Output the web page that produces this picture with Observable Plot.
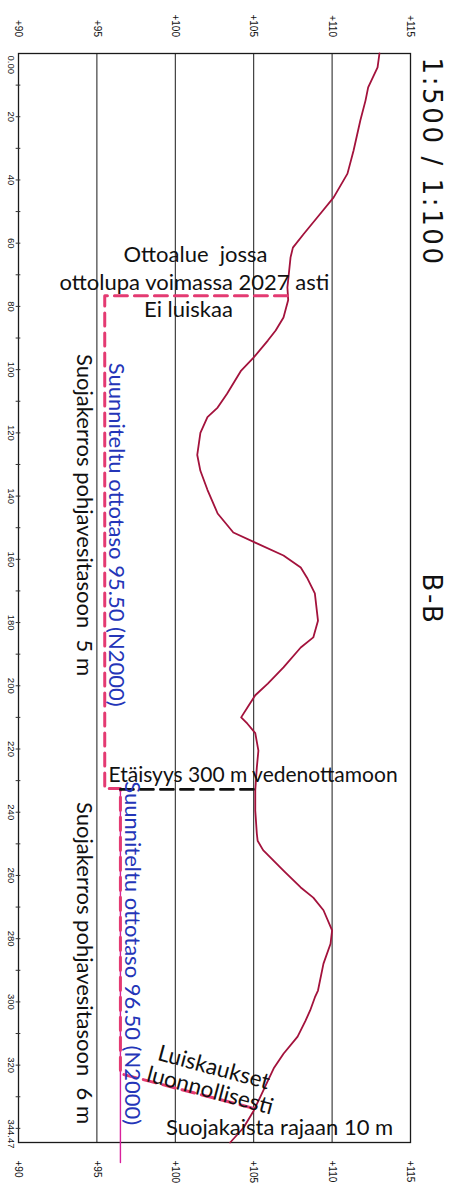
<!DOCTYPE html>
<html><head><meta charset="utf-8">
<script src="https://cdn.jsdelivr.net/npm/d3@7"></script>
<script src="https://cdn.jsdelivr.net/npm/@observablehq/plot@0.6"></script>
<style>body{margin:0;background:#fff} #chart svg{display:block}</style>
</head><body><div id="chart"></div>
<script>
// Terrain profile B-B: distance along section (m) and ground elevation (N2000)
const profileDist = [0, 4.4, 10.7, 14.9, 21.2, 30.7, 38, 45.5, 50.6, 57, 61.4, 64.5, 74, 78, 83.5, 87.6, 90.8, 96.2, 100.3, 107.6, 112, 115, 120, 127, 132, 138, 145.5, 151.5, 154.7, 158.8, 162.6, 165.8, 170.8, 179.4, 184.7, 187.9, 194.2, 199.3, 203, 206.9, 210, 212, 215, 220.5, 225.8, 233, 239.5, 246.8, 249, 252, 258.5, 263.8, 267, 271, 277.4, 281.6, 287.9, 296.4, 298.6, 302.7, 306, 311, 316.4, 320.8, 325, 330.3, 334.4, 339.8, 344.47];
const profileElev = [113.02, 112.9, 112.3, 112.13, 111.8, 111.37, 110.98, 110.1, 109.26, 108.2, 107.5, 107.35, 107.15, 107.2, 106.9, 106.4, 105.9, 104.99, 104.2, 103.3, 102.7, 102.05, 101.6, 101.4, 101.6, 102.05, 102.7, 103.7, 105.1, 106.9, 108.0, 108.4, 108.9, 109.1, 108.8, 108.0, 106.9, 105.9, 105.1, 104.6, 104.2, 104.6, 105.1, 105.3, 105.2, 105.1, 105.1, 105.2, 105.25, 105.6, 106.9, 108.0, 108.8, 109.45, 110.0, 109.9, 109.45, 109.1, 108.9, 108.6, 108.3, 107.8, 106.9, 106.3, 105.9, 105.4, 105.0, 104.35, 103.5];

// Planned extraction boundary (pink dashed)
const planDist = [76.6, 76.6, 232.5, 232.5, 322.7, 333.8];
const planElev = [107.15, 95.5, 95.5, 96.5, 96.5, 105.1];
// Planned level 96.50 (thin magenta)
const levelDist = [232.5, 350.8];
const levelElev = [96.5, 96.5];
// 300 m distance marker (black dashed)
const markDist = [232.8, 232.8];
const markElev = [96.5, 105.1];

// Axes
const elevTicks = [90, 95, 100, 105, 110, 115];
const elevTickLabels = ["+90", "+95", "+100", "+105", "+110", "+115"];
const gridElev = [95, 100, 105, 110];
const distTicks = [0, 20, 40, 60, 80, 100, 120, 140, 160, 180, 200, 220, 240, 260, 280, 300, 320, 344.47];
const distTickLabels = ["0.00", "20", "40", "60", "80", "100", "120", "140", "160", "180", "200", "220", "240", "260", "280", "300", "320", "344.47"];
const minorDist = [10, 20, 30, 40, 50, 60, 70, 80, 90, 100, 110, 120, 130, 140, 150, 160, 170, 180, 190, 200, 210, 220, 230, 240, 250, 260, 270, 280, 290, 300, 310, 320, 330, 340];

// Titles
const titleText = ["1:500 / 1:100", "B-B"];
const titleElev = [115.8, 115.8];
const titleDist = [1.3, 172.7];

// Horizontal notes
const noteText = ["Ottoalue  jossa", "ottolupa voimassa 2027 asti", "Ei luiskaa", "Suojakaista rajaan 10 m"];
const noteElev = [101.29, 101.22, 100.84, 106.65];
const noteDist = [66.0, 74.8, 83.2, 342.0];
const note2Text = ["Etäisyys 300 m vedenottamoon"];
const note2Elev = [104.96];
const note2Dist = [230.5];
// Vertical notes
const blueText = ["Suunniteltu ottotaso 95.50 (N2000)", "Suunniteltu ottotaso 96.50 (N2000)"];
const blueElev = [95.8, 96.8];
const blueDist = [152.2, 284.6];
const blackVText = ["Suojakerros pohjavesitasoon  5 m", "Suojakerros pohjavesitasoon  6 m"];
const blackVElev = [93.75, 93.75];
const blackVDist = [146.0, 287.7];
// Slanted notes
const slopeText = ["Luiskaukset", "luonnollisesti"];
const slopeElev = [98.8, 98.1];
const slopeDist = [318.3, 325.0];

const idx = (arr) => (d, i) => arr[i];

const plot = Plot.plot({
  width: 458,
  height: 1188,
  marginLeft: 18,
  marginRight: 48,
  marginTop: 53,
  marginBottom: 46,
  x: {domain: [90, 115], axis: null},
  y: {domain: [0, 344.47], reverse: true, axis: null},
  style: {fontFamily: "'Liberation Sans', Arial, sans-serif", background: "#fff", color: "#111"},
  marks: [
    Plot.ruleX(gridElev, {x: d => d, stroke: "#1a1a1a", strokeWidth: 1}),
    Plot.frame({stroke: "#1a1a1a", strokeWidth: 1.3}),
    Plot.ruleY(minorDist, {y: d => d, x1: 89.85, x2: 90.15, stroke: "#333", strokeWidth: 1}),
    // terrain
    Plot.line(profileDist, {x: idx(profileElev), y: d => d, stroke: "#a3123c", strokeWidth: 1.8, curve: "linear"}),
    // planned boundaries
    Plot.line(levelDist, {x: idx(levelElev), y: d => d, stroke: "#d8209c", strokeWidth: 1.4}),
    Plot.line(planDist, {x: idx(planElev), y: d => d, stroke: "#e43a72", strokeWidth: 3, strokeDasharray: "13,7"}),
    Plot.line(markDist, {x: idx(markElev), y: d => d, stroke: "#111", strokeWidth: 2.8, strokeDasharray: "13,7"}),
    // elevation labels top & bottom
    Plot.text(elevTickLabels, {x: idx(elevTicks), text: d => d, frameAnchor: "top", dy: -16.5, rotate: 90, textAnchor: "end", lineAnchor: "middle", fontSize: 10, fill: "#111"}),
    Plot.text(elevTickLabels, {x: idx(elevTicks), text: d => d, frameAnchor: "bottom", dy: 18, rotate: 90, textAnchor: "start", lineAnchor: "middle", fontSize: 10, fill: "#111"}),
    // distance labels
    Plot.text(distTickLabels.slice(0, 1), {y: idx(distTicks.slice(0, 1)), text: d => d, frameAnchor: "left", dx: -7, dy: 2, rotate: 90, textAnchor: "start", lineAnchor: "middle", fontSize: 9.5, fill: "#111"}),
    Plot.text(distTickLabels.slice(1, -1), {y: idx(distTicks.slice(1, -1)), text: d => d, frameAnchor: "left", dx: -7, rotate: 90, textAnchor: "middle", lineAnchor: "middle", fontSize: 9.5, fill: "#111"}),
    Plot.text(distTickLabels.slice(-1), {y: idx(distTicks.slice(-1)), text: d => d, frameAnchor: "left", dx: -7, dy: 6, rotate: 90, textAnchor: "end", lineAnchor: "middle", fontSize: 9.5, fill: "#111"}),
    // titles
    Plot.text(titleText.slice(0, 1), {x: idx(titleElev.slice(0, 1)), y: idx(titleDist.slice(0, 1)), text: d => d, rotate: 90, textAnchor: "start", lineAnchor: "bottom", fontFamily: "'DejaVu Sans'", fontSize: 26, fill: "#111"}),
    Plot.text(titleText.slice(1), {x: idx(titleElev.slice(1)), y: idx(titleDist.slice(1)), text: d => d, rotate: 90, textAnchor: "middle", lineAnchor: "bottom", fontFamily: "'DejaVu Sans'", fontSize: 26, fill: "#111"}),
    // notes
    Plot.text(noteText, {x: idx(noteElev), y: idx(noteDist), text: d => d, textAnchor: "middle", lineAnchor: "bottom", fontFamily: "Lato", fontSize: 22, fill: "#111"}),
    Plot.text(note2Text, {x: idx(note2Elev), y: idx(note2Dist), text: d => d, textAnchor: "middle", lineAnchor: "bottom", fontFamily: "Lato", fontSize: 21, fill: "#111"}),
    Plot.text(blueText, {x: idx(blueElev), y: idx(blueDist), text: d => d, rotate: 90, textAnchor: "middle", lineAnchor: "bottom", fontFamily: "Lato", fontSize: 22, fill: "#2435b8"}),
    Plot.text(blackVText, {x: idx(blackVElev), y: idx(blackVDist), text: d => d, rotate: 90, textAnchor: "middle", lineAnchor: "bottom", fontFamily: "Lato", fontSize: 22, fill: "#111"}),
    Plot.text(slopeText, {x: idx(slopeElev), y: idx(slopeDist), text: d => d, rotate: 15, textAnchor: "start", lineAnchor: "bottom", fontFamily: "Lato", fontSize: 22.5, fill: "#111"})
  ]
});
plot.querySelectorAll("text").forEach(t => {
  if (titleText.includes(t.textContent)) t.setAttribute("letter-spacing", "2.6");
});
document.getElementById("chart").appendChild(plot);
</script>
</body></html>
